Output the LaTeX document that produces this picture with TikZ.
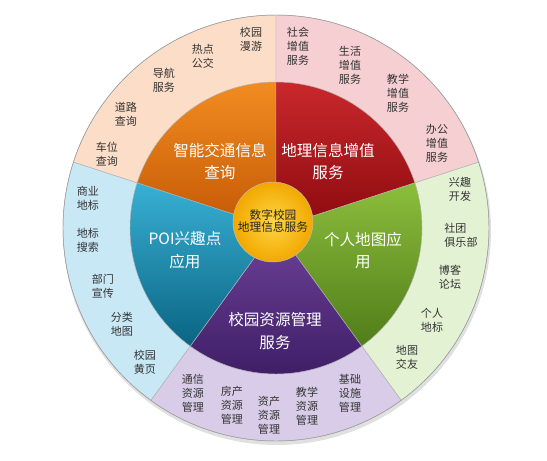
\documentclass[tikz,border=0pt]{standalone}
\usepackage{fontspec}
\setmainfont{Noto Sans CJK SC}
\usepackage{xcolor}
\usepackage{tikz}

\definecolor{ringorange}{RGB}{252,221,199}
\definecolor{ringred}{RGB}{246,207,210}
\definecolor{ringgreen}{RGB}{228,242,212}
\definecolor{ringpurple}{RGB}{216,204,232}
\definecolor{ringblue}{RGB}{201,232,246}

\tikzset{
  ring/.style={draw=black!30, line width=0.4pt},
  pie/.style={draw=white!70!black, line width=0.4pt},
  item/.style={align=center, text=black!80, font=\fontsize{9.4}{11.8}\selectfont},
  title/.style={align=center, text=white, font=\fontsize{13.3}{19.5}\selectfont}
}

\begin{document}
\begin{tikzpicture}[x=0.3mm, y=0.3mm]
            \useasboundingbox (-276,-232) rectangle (271,228);
            % Shadow
            \fill[black!12] (1,-3) circle[radius=214];
            % Outer ring
            \filldraw[ring, fill=ringorange] (0,0) -- (90:213) arc[start angle=90, end angle=162, radius=213] -- cycle;
            \filldraw[ring, fill=ringred] (0,0) -- (18:213) arc[start angle=18, end angle=90, radius=213] -- cycle;
            \filldraw[ring, fill=ringgreen] (0,0) -- (-54:213) arc[start angle=-54, end angle=18, radius=213] -- cycle;
            \filldraw[ring, fill=ringpurple] (0,0) -- (-126:213) arc[start angle=-126, end angle=-54, radius=213] -- cycle;
            \filldraw[ring, fill=ringblue] (0,0) -- (162:213) arc[start angle=162, end angle=234, radius=213] -- cycle;
            \draw[black!40] (0,0) circle[radius=213];
            % Inner pie
            \shadedraw[pie, top color={rgb,255:red,242;green,140;blue,32}, bottom color={rgb,255:red,196;green,88;blue,6}] (0,0) -- (90:146) arc[start angle=90, end angle=162, radius=146] -- cycle;
            \shadedraw[pie, top color={rgb,255:red,200;green,40;blue,44}, bottom color={rgb,255:red,140;green,10;blue,14}] (0,0) -- (18:146) arc[start angle=18, end angle=90, radius=146] -- cycle;
            \shadedraw[pie, top color={rgb,255:red,140;green,190;blue,60}, bottom color={rgb,255:red,80;green,125;blue,25}] (0,0) -- (-54:146) arc[start angle=-54, end angle=18, radius=146] -- cycle;
            \shadedraw[pie, top color={rgb,255:red,110;green,66;blue,152}, bottom color={rgb,255:red,60;green,28;blue,100}] (0,0) -- (-126:146) arc[start angle=-126, end angle=-54, radius=146] -- cycle;
            \shadedraw[pie, top color={rgb,255:red,56;green,176;blue,212}, bottom color={rgb,255:red,10;green,100;blue,130}] (0,0) -- (162:146) arc[start angle=162, end angle=234, radius=146] -- cycle;
            % Centre
            \shadedraw[draw=black!25, inner color={rgb,255:red,255;green,214;blue,70}, outer color={rgb,255:red,242;green,168;blue,0}] (-3,6) circle[radius=40];
            \node[item, font=\fontsize{10}{11}\selectfont, text=black!85] (core) at (-3,7) {数字校园\\地理信息服务};
            % Sector titles
            \node[title] (traffic) at (-56,66.5) {智能交通信息\\查询};
            \node[title] (value) at (52,66.5) {地理信息增值\\服务};
            \node[title] (poi) at (-91,-22.5) {POI兴趣点\\应用};
            \node[title] (personal) at (87,-22.5) {个人地图应\\用};
            \node[title] (resource) at (-1,-103) {校园资源管理\\服务};
            % Traffic items
            \node[item] (roam) at (-25,189) {校园\\漫游};
            \node[item] (bus) at (-73,172) {热点\\公交};
            \node[item] (navi) at (-112,148) {导航\\服务};
            \node[item] (road) at (-150,114) {道路\\查询};
            \node[item] (park) at (-169,74) {车位\\查询};
            % Value items
            \node[item] (social) at (22,182) {社会\\增值\\服务};
            \node[item] (life) at (74,163) {生活\\增值\\服务};
            \node[item] (teach) at (122,135) {教学\\增值\\服务};
            \node[item] (office) at (161,85) {办公\\增值\\服务};
            % Personal items
            \node[item] (hobby) at (184,39) {兴趣\\开发};
            \node[item, align=left] (club) at (185,-7) {社团\\俱乐部};
            \node[item] (blog) at (174,-49) {博客\\论坛};
            \node[item] (mark) at (156,-92) {个人\\地标};
            \node[item] (friend) at (131,-129) {地图\\交友};
            % Resource items
            \node[item] (comm) at (-83,-165) {通信\\资源\\管理};
            \node[item] (house) at (-44,-177) {房产\\资源\\管理};
            \node[item] (asset) at (-7,-187) {资产\\资源\\管理};
            \node[item] (edu) at (31,-178) {教学\\资源\\管理};
            \node[item] (infra) at (74,-165) {基础\\设施\\管理};
            % POI items
            \node[item] (shop) at (-188,30) {商业\\地标};
            \node[item] (search) at (-188,-12) {地标\\搜索};
            \node[item] (dept) at (-173,-58) {部门\\宣传};
            \node[item] (class) at (-154,-96) {分类\\地图};
            \node[item] (pages) at (-131,-134) {校园\\黄页};
        \end{tikzpicture}
\end{document}
